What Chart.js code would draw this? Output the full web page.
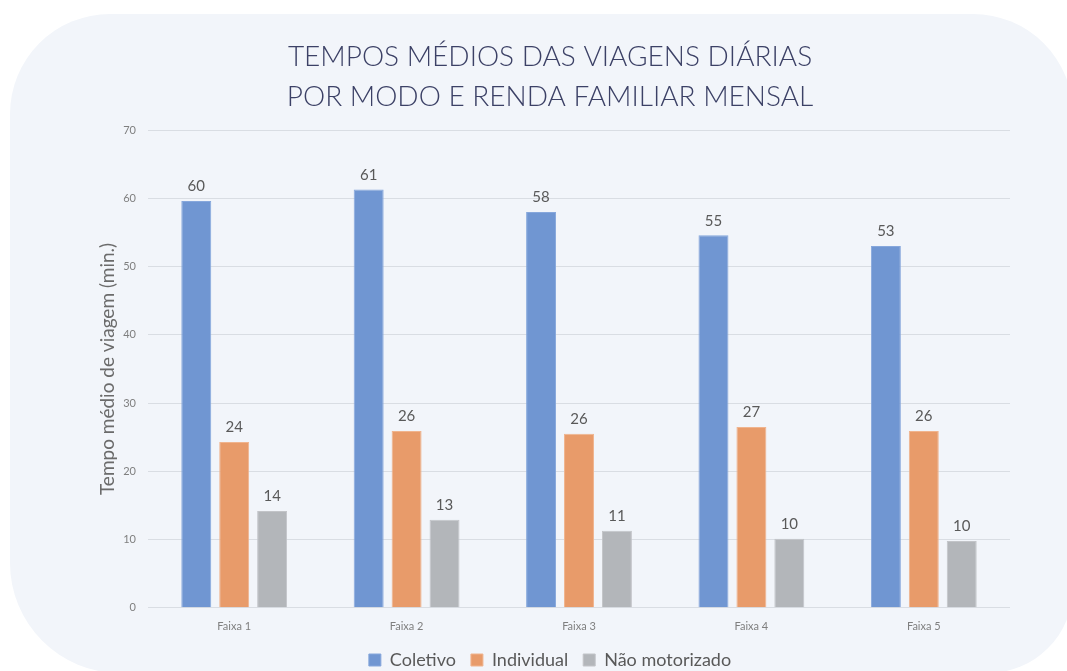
<!DOCTYPE html>
<html>
<head>
<meta charset="utf-8">
<script src="https://cdn.jsdelivr.net/npm/chart.js@4/dist/chart.umd.min.js"></script>
<style>
  html, body { margin: 0; padding: 0; background: #ffffff; }
  #wrap { width: 1067px; height: 671px; }
</style>
</head>
<body>
<div id="wrap"><canvas id="c" width="1067" height="671"></canvas></div>
<script>
// Income brackets
const categories = ['Faixa 1', 'Faixa 2', 'Faixa 3', 'Faixa 4', 'Faixa 5'];
// Average daily trip time (minutes) per travel mode
const coletivo = [59.6, 61.3, 58.0, 54.6, 53.0];
const individual = [24.3, 25.9, 25.5, 26.5, 25.9];
const naoMotorizado = [14.2, 12.9, 11.3, 10.1, 9.8];
const seriesNames = ['Coletivo', 'Individual', 'Não motorizado'];
const yTicks = [0, 10, 20, 30, 40, 50, 60, 70];

const FONT = 'Lato, "Open Sans", sans-serif';

// Rounded panel behind the chart
const panelPlugin = {
  id: 'panel',
  beforeDraw(chart) {
    const ctx = chart.ctx;
    ctx.save();
    ctx.fillStyle = '#f2f5fa';
    ctx.beginPath();
    ctx.roundRect(10, 14, 1063, 659, [100, 100, 85, 110]);
    ctx.fill();
    ctx.restore();
  }
};

// Value labels above each bar
const valueLabels = {
  id: 'valueLabels',
  afterDatasetsDraw(chart) {
    const ctx = chart.ctx;
    ctx.save();
    ctx.font = '15px ' + FONT;
    ctx.fillStyle = '#595959';
    ctx.textAlign = 'center';
    ctx.textBaseline = 'bottom';
    chart.data.datasets.forEach((ds, i) => {
      const meta = chart.getDatasetMeta(i);
      meta.data.forEach((bar, j) => {
        ctx.fillText(String(Math.round(ds.data[j])), bar.x, bar.y - 7);
      });
    });
    ctx.restore();
  }
};

new Chart(document.getElementById('c'), {
  type: 'bar',
  data: {
    labels: categories,
    datasets: [
      { label: seriesNames[0], data: coletivo, backgroundColor: '#7096d2', borderColor: '#86a7dc', borderWidth: 1 },
      { label: seriesNames[1], data: individual, backgroundColor: '#e89b6a', borderColor: '#f0b48e', borderWidth: 1 },
      { label: seriesNames[2], data: naoMotorizado, backgroundColor: '#b3b6ba', borderColor: '#c2c4c8', borderWidth: 1 }
    ]
  },
  options: {
    responsive: false,
    animation: false,
    devicePixelRatio: 1,
    categoryPercentage: 0.66,
    barPercentage: 0.79,
    layout: { padding: { left: 90, right: 57, top: 0, bottom: -8 } },
    plugins: {
      title: {
        display: true,
        text: ['TEMPOS MÉDIOS DAS VIAGENS DIÁRIAS', 'POR MODO E RENDA FAMILIAR MENSAL'],
        color: '#3c4166',
        font: { family: FONT, size: 28, weight: '300', lineHeight: 1.43 },
        padding: { top: 37, bottom: 13 }
      },
      legend: {
        position: 'bottom',
        labels: {
          color: '#595959',
          font: { family: FONT, size: 18 },
          boxWidth: 12,
          boxHeight: 12,
          padding: 15
        }
      },
      tooltip: { enabled: false }
    },
    scales: {
      x: {
        grid: { display: false, drawTicks: false },
        border: { display: false },
        ticks: { color: '#7f7f7f', font: { family: FONT, size: 11 }, padding: 12 },
        afterFit(scale) { scale.height -= 9; }
      },
      y: {
        min: 0,
        max: 70,
        afterBuildTicks(scale) { scale.ticks = yTicks.map(v => ({ value: v })); },
        afterFit(scale) { scale.width = 58; },
        grid: { color: '#d9dde3', lineWidth: 1, drawTicks: false },
        border: { display: false },
        ticks: { color: '#7f7f7f', font: { family: FONT, size: 11 }, padding: 12 },
        title: {
          display: true,
          text: 'Tempo médio de viagem (min.)',
          color: '#6b6b6b',
          font: { family: FONT, size: 19 },
          padding: { top: 6, bottom: 0 }
        }
      }
    }
  },
  plugins: [panelPlugin, valueLabels]
});
</script>
</body>
</html>
